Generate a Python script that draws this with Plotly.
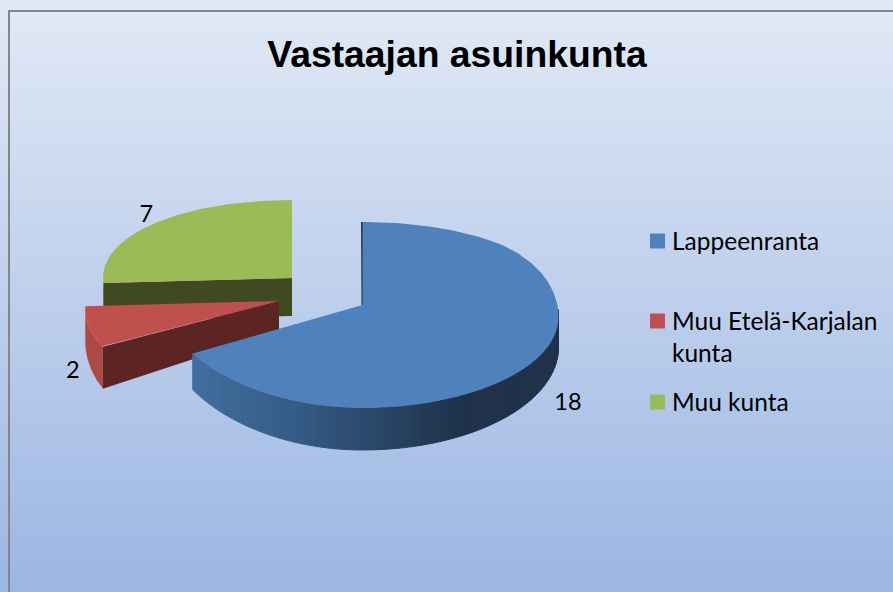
import math
import plotly.graph_objects as go

# ---- data ----
categories = ["Lappeenranta", "Muu Etelä-Karjalan<br>kunta", "Muu kunta"]
values = [18, 2, 7]

# ---- style ----
top_colors = ["#4f81bd", "#c0504d", "#9bbb59"]
W, H = 893, 592
FONT = "Lato"
# exploded placement and 3-D projection of each slice
geom = [
    dict(ax=362.5, ay=305, rx=196, up=83, down=103, skew=0, sag=12, d0=30, d1=12, fx=1.21, fy=1.09),
    dict(ax=279, ay=301, rx=193, up=83, down=95, skew=18, sag=0, d0=30, d1=24, fx=1.085, fy=1.33),
    dict(ax=292, ay=278, rx=189, up=78, down=90, skew=0, sag=0, d0=38, d1=0, fx=1.06, fy=1.14),
]
legend_rows = [241, 321, 402]
BG_STOPS = [(12, (224, 232, 245)), (592, (155, 182, 227))]
WALL_STOPS = [(192, (66, 111, 159)), (300, (52, 90, 132)), (400, (39, 65, 95)), (460, (31, 50, 74))]

total = sum(values)


def project(g, ang):
    u, v = math.sin(ang), math.cos(ang)
    k = (g["down"] - g["up"]) / (g["down"] + g["up"])
    a = 2 * g["up"] * g["down"] / (g["down"] + g["up"])
    x = g["ax"] + g["rx"] * u + g["skew"] * v
    y = g["ay"] - a * v / (1 + k * v)
    if u > 0:
        y += g["sag"] * u * u * min(1.0, max(0.0, (0.7 - v) / 0.7))
    return x, y, g["d0"] - g["d1"] * v


def arc(g, a0, a1, n=80):
    return [project(g, a0 + (a1 - a0) * i / n) for i in range(n + 1)]


def lerp_stops(stops, t):
    if t <= stops[0][0]:
        return stops[0][1]
    for (p0, c0), (p1, c1) in zip(stops, stops[1:]):
        if t <= p1:
            f = (t - p0) / (p1 - p0)
            return tuple(round(a + (b - a) * f) for a, b in zip(c0, c1))
    return stops[-1][1]


def rgb(c):
    return "rgb(%d,%d,%d)" % tuple(c)


def poly(xs, ys, color, line=0):
    return go.Scatter(x=xs + xs[:1], y=ys + ys[:1], fill="toself", fillcolor=color, mode="lines",
                      line=dict(color=color, width=line), hoverinfo="skip", showlegend=False)


# slice angles, clockwise from twelve o'clock
angles = []
acc = 0
for val in values:
    start = acc / total * 2 * math.pi
    acc += val
    angles.append((start, acc / total * 2 * math.pi))

fig = go.Figure()

# background gradient
rows = list(range(0, H + 1, 4))
fig.add_trace(go.Heatmap(
    x=[9.5, W + 5], y=rows,
    z=[[r, r] for r in rows], zmin=12, zmax=592,
    colorscale=[[0, rgb(BG_STOPS[0][1])], [1, rgb(BG_STOPS[1][1])]],
    showscale=False, hoverinfo="skip"))

# green slice: cut face, then top
g = geom[2]
a0, a1 = angles[2]
rim = project(g, a0)
fig.add_trace(poly([g["ax"], rim[0], rim[0], g["ax"]],
                   [g["ay"], rim[1], rim[1] + rim[2], g["ay"] + g["d0"]], "#404a20"))
pts = arc(g, a0, a1)
fig.add_trace(poly([g["ax"]] + [p[0] for p in pts], [g["ay"]] + [p[1] for p in pts], top_colors[2]))

# red slice: outer wall, cut face, top
g = geom[1]
a0, a1 = angles[1]
pts = arc(g, a0, a1)
fig.add_trace(poly([p[0] for p in pts] + [p[0] for p in reversed(pts)],
                   [p[1] for p in pts] + [p[1] + p[2] for p in reversed(pts)], "#ae4a46"))
rim = project(g, a0)
fig.add_trace(poly([g["ax"], rim[0], rim[0], g["ax"]],
                   [g["ay"], rim[1], rim[1] + rim[2], g["ay"] + g["d0"]], "#5c2522"))
fig.add_trace(poly([g["ax"]] + [p[0] for p in pts], [g["ay"]] + [p[1] for p in pts], top_colors[1]))

# blue slice: shaded rim wall, thin visible cut face, top
g = geom[0]
a0, a1 = angles[0]
wall = arc(g, math.radians(86), a1, n=70)
for p, q in zip(wall, wall[1:]):
    fig.add_trace(poly([p[0], q[0], q[0], p[0]], [p[1], q[1], q[1] + q[2], p[1] + p[2]],
                       rgb(lerp_stops(WALL_STOPS, (p[0] + q[0]) / 2)), line=1))
top = project(g, a0)
fig.add_trace(go.Scatter(x=[top[0] - 0.5, g["ax"]], y=[top[1], g["ay"]], mode="lines",
                         line=dict(color="#1f324a", width=2), hoverinfo="skip", showlegend=False))
pts = arc(g, a0, a1, n=200)
fig.add_trace(poly([g["ax"]] + [p[0] for p in pts], [g["ay"]] + [p[1] for p in pts], top_colors[0]))

# data labels, placed radially from each slice
lx, ly, lt = [], [], []
for g, (a0, a1), val in zip(geom, angles, values):
    m = (a0 + a1) / 2
    px, py, d = project(g, m)
    lx.append(g["ax"] + (px - g["ax"]) * g["fx"])
    off = (py - g["ay"]) * g["fy"]
    ly.append(g["ay"] + off + (d if math.cos(m) < 0 else 0))
    lt.append(str(val))
fig.add_trace(go.Scatter(x=lx, y=ly, text=lt, mode="text", textposition="middle center",
                         textfont=dict(family=FONT, size=23.5, color="#000000"),
                         hoverinfo="skip", showlegend=False))

# legend: swatch aligned with the first line of each entry
annotations = []
for name, col, row in zip(categories, top_colors, legend_rows):
    fig.add_trace(go.Scatter(x=[657.5], y=[row], mode="markers", name=name.replace("<br>", " "),
                             marker=dict(symbol="square", size=15, color=col),
                             hoverinfo="skip", showlegend=False))
    annotations.append(dict(x=670.5, y=row - 16, xref="x", yref="y", xanchor="left", yanchor="top",
                            text=name, align="left", showarrow=False, borderpad=0,
                            font=dict(family=FONT, size=24.5, color="#000000")))

fig.update_layout(
    width=W, height=H, margin=dict(l=0, r=0, t=0, b=0),
    paper_bgcolor="#ffffff", plot_bgcolor="rgba(0,0,0,0)",
    showlegend=False,
    xaxis=dict(range=[0, W], visible=False, fixedrange=True),
    yaxis=dict(range=[H, 0], visible=False, fixedrange=True),
    title=dict(text="<b>Vastaajan asuinkunta</b>", x=457 / W, xanchor="center", y=1 - 54 / H, yanchor="middle",
               font=dict(family="Liberation Sans", size=37.3, color="#000000")),
    annotations=annotations,
    shapes=[dict(type="rect", xref="x", yref="y", x0=9, y0=11, x1=W + 10, y1=H + 10,
                 line=dict(color="#868686", width=2), fillcolor="rgba(0,0,0,0)", layer="above")],
)
fig.write_html("out.html", config={"displayModeBar": False},
               post_script="document.body.style.margin='0';")
